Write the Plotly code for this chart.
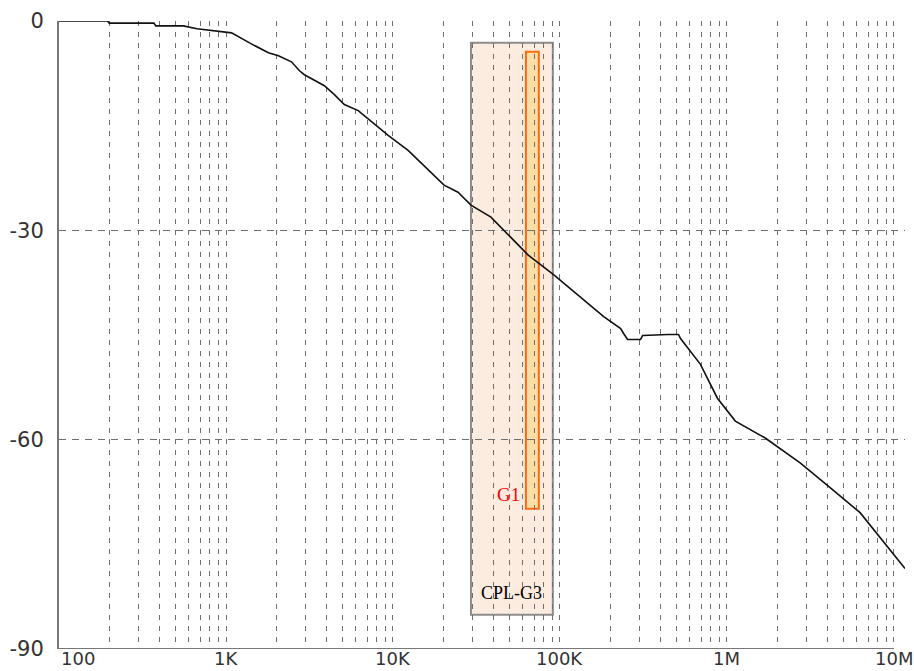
import plotly.graph_objects as go
import numpy as np

# Data (frequency in Hz, gain in dB)
freq = [100, 195, 200, 370, 380, 555, 670, 820, 1080, 1384, 1795, 2061, 2466, 2755,
        2948, 3882, 4458, 5110, 6193, 9355, 12320, 20220, 24510, 29300, 38600,
        64270, 91900, 182700, 230800, 240400, 254000, 303900, 312400, 446900,
        512700, 527000, 604400, 693500, 876500, 1122000, 1694000, 2742000,
        4145000, 6266000, 11640000]
gain = [0, 0, -0.3, -0.3, -0.7, -0.7, -1.1, -1.35, -1.7, -3.14, -4.56, -4.99, -5.85, -7.13,
        -7.70, -9.27, -10.55, -11.98, -12.84, -16.40, -18.54, -23.53, -24.53, -26.38, -28.10,
        -33.52, -36.37, -42.36, -44.07, -44.79, -45.64, -45.64, -45.07, -44.93,
        -44.93, -45.50, -47.35, -49.21, -54.06, -57.34, -59.76, -63.33,
        -66.89, -70.46, -78.45]

x_tick_vals = [100, 1e3, 1e4, 1e5, 1e6, 1e7]
x_tick_text = ["100", "1K", "10K", "100K", "1M", "10M"]
y_tick_vals = [0, -30, -60, -90]
y_tick_text = ["0", "-30", "-60", "-90"]

# Highlight bands: (label, f_start, f_end, db_top, db_bottom)
band_cpl = ("CPL-G3", 29300, 90600, -3.1, -85.1)
band_g1 = ("G1", 62500, 74700, -4.4, -69.9)

fig = go.Figure()
fig.add_trace(go.Scatter(x=freq, y=gain, mode="lines",
                         line=dict(color="#111111", width=1.6), showlegend=False))

grid_col = "#6f6f6f"
fig.update_xaxes(type="log", range=[2, 7.066], showline=False, zeroline=False,
                 tickvals=x_tick_vals, showticklabels=False,
                 showgrid=True, gridcolor=grid_col, gridwidth=1.4, griddash="5px,6px",
                 minor=dict(showgrid=True, dtick="D1", gridcolor=grid_col, gridwidth=1.4,
                            griddash="5px,6px"))
fig.update_yaxes(range=[-90, 0], tickvals=y_tick_vals, ticktext=y_tick_text,
                 showline=True, linecolor="#777777", linewidth=2, zeroline=False,
                 showgrid=True, gridcolor=grid_col, gridwidth=1.4, griddash="7px,6px",
                 ticklabelstandoff=9,
                 tickfont=dict(family="DejaVu Sans", size=21, color="#333333"))

# bottom axis line up to 10M
fig.add_shape(type="line", xref="x", yref="y", x0=100, x1=1e7, y0=-90, y1=-90,
              line=dict(color="#777777", width=2), layer="above")

# x tick labels
for v, t in zip(x_tick_vals, x_tick_text):
    anchor = "left" if v == x_tick_vals[0] else "center"
    fig.add_annotation(x=np.log10(v), y=-22 / 631, xref="x", yref="paper", text=t,
                       showarrow=False, xanchor=anchor, yanchor="bottom",
                       font=dict(family="DejaVu Sans", size=18, color="#333333"))

# bands
lab, f0, f1, ytop, ybot = band_cpl
fig.add_shape(type="rect", xref="x", yref="y", x0=f0, x1=f1, y0=ybot, y1=ytop,
              fillcolor="#fcebdf", line=dict(color="#8c8c8c", width=2), layer="below")
fig.add_annotation(x=np.log10(np.sqrt(f0 * f1)), y=ybot, xref="x", yref="y", text=lab,
                   showarrow=False, xanchor="center", yanchor="bottom", yshift=10,
                   font=dict(family="Liberation Serif", size=18, color="black"))

lab, f0, f1, ytop, ybot = band_g1
fig.add_shape(type="rect", xref="x", yref="y", x0=f0, x1=f1, y0=ybot, y1=ytop,
              fillcolor="#f9dfa6", line=dict(color="#ff6a10", width=2), layer="below")
fig.add_annotation(x=np.log10(f0), y=ybot, xref="x", yref="y", text=lab,
                   showarrow=False, xanchor="right", yanchor="bottom", yshift=2, xshift=-4,
                   font=dict(family="Liberation Serif", size=19, color="red"))

fig.update_layout(width=914, height=671, margin=dict(l=57, r=9, t=18, b=22),
                  plot_bgcolor="white", paper_bgcolor="white")

fig.write_html("out.html")
